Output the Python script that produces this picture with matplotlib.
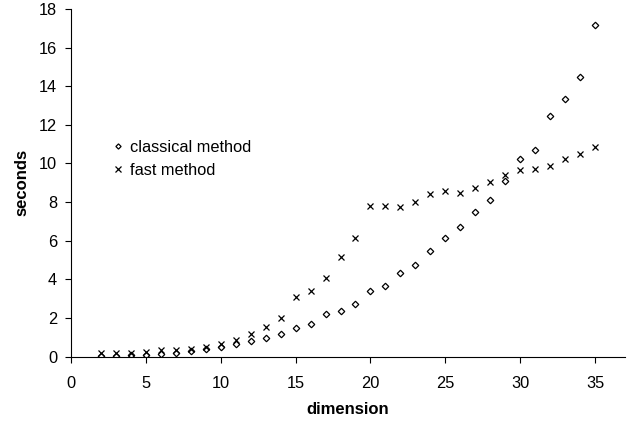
import matplotlib
matplotlib.use("Agg")
import matplotlib.pyplot as plt

plt.rcParams['font.family'] = ['Liberation Sans', 'DejaVu Sans']

dimension = list(range(2, 36))

classical = [0.03, 0.03, 0.06, 0.06, 0.13, 0.20, 0.27, 0.39, 0.48, 0.65,
             0.82, 0.96, 1.15, 1.46, 1.66, 2.20, 2.35, 2.74, 3.39, 3.63,
             4.32, 4.75, 5.48, 6.15, 6.69, 7.50, 8.11, 9.09, 10.25, 10.72,
             12.45, 13.35, 14.47, 17.18]

fast = [0.20, 0.20, 0.20, 0.24, 0.34, 0.36, 0.39, 0.50, 0.67, 0.88,
        1.15, 1.53, 2.02, 3.06, 3.40, 4.08, 5.15, 6.15, 7.80, 7.81,
        7.75, 8.00, 8.40, 8.59, 8.49, 8.71, 9.06, 9.40, 9.65, 9.72,
        9.87, 10.24, 10.48, 10.86]

fig = plt.figure(figsize=(6.43, 4.23), dpi=100)
ax = fig.add_axes([71/643, 1-356.5/423, 554/643, 347.5/423])

ax.plot(dimension, classical, linestyle='none', marker='D', markersize=3.3,
        markerfacecolor='white', markeredgecolor='black', markeredgewidth=0.9,
        label='classical method')
ax.plot(dimension, fast, linestyle='none', marker='x', markersize=5,
        color='black', markeredgewidth=0.9, label='fast method')

ax.set_xlim(0, 37)
ax.set_ylim(0, 18)
ax.set_xticks(range(0, 36, 5))
ax.set_yticks(range(0, 19, 2))
ax.spines['top'].set_visible(False)
ax.spines['right'].set_visible(False)
for s in ['left', 'bottom']:
    ax.spines[s].set_linewidth(0.8)
ax.tick_params(direction='out', length=4, width=0.8, labelsize=11.8)
ax.tick_params(axis='x', pad=10)
ax.tick_params(axis='y', pad=6)

ax.set_xlabel('dimension', fontsize=12, fontweight='bold', labelpad=8)
ax.set_ylabel('seconds', fontsize=12, fontweight='bold', labelpad=7)

ax.legend(loc='upper left', bbox_to_anchor=(111/643, 1-140/423),
          bbox_transform=fig.transFigure, frameon=False, fontsize=11.8,
          handlelength=0.8, handletextpad=0.35, borderaxespad=0,
          borderpad=0, labelspacing=0.5, markerscale=0.8)

fig.savefig('out.png', dpi=100)
